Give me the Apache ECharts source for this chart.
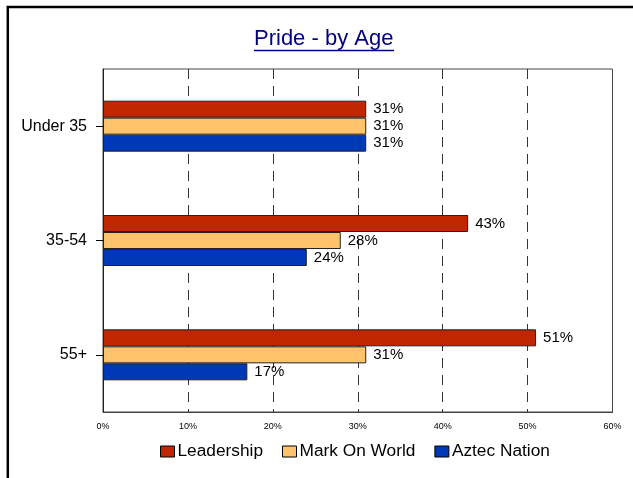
<!DOCTYPE html>
<html><head><meta charset="utf-8">
<script src="https://cdn.jsdelivr.net/npm/echarts@6/dist/echarts.min.js"></script>
<style>html,body{margin:0;padding:0;background:#fff}#c{width:633px;height:478px}</style>
</head><body><div id="c"></div>
<script>
const categories = ['Under 35', '35-54', '55+'];
const seriesNames = ['Leadership', 'Mark On World', 'Aztec Nation'];
const leadership = [31, 43, 51];
const markOnWorld = [31, 28, 31];
const aztecNation = [31, 24, 17];
const colors = ['#C02600', '#FFC36E', '#0039B8'];
const xTicks = [0, 10, 20, 30, 40, 50, 60];

const chart = echarts.init(document.getElementById('c'), null, {renderer: 'canvas'});
const values = [leadership, markOnWorld, aztecNation];
const font = 'Arial, "Liberation Sans", sans-serif';
chart.setOption({
  animation: false,
  textStyle: {fontFamily: font},
  title: {
    text: 'Pride - by Age', left: 254, top: 28, padding: 0,
    textStyle: {color: '#000080', fontSize: 22, fontWeight: 'normal', fontFamily: font}
  },
  legend: {
    top: 443, left: 160, padding: 0, itemWidth: 14, itemHeight: 11, itemGap: 19,
    textStyle: {fontSize: 17.3, color: '#000', fontFamily: font, padding: [0,0,0,-2]},
    icon: 'rect',
    itemStyle: {borderColor: '#000', borderWidth: 1},
    data: seriesNames
  },
  grid: {left: 103, right: 20.5, top: 69, bottom: 66, show: true, borderColor: '#444', borderWidth: 1, containLabel: false},
  xAxis: {
    type: 'value', min: xTicks[0], max: xTicks[xTicks.length-1], interval: 10,
    axisLine: {show: true, lineStyle: {color: '#444'}},
    axisTick: {show: false},
    axisLabel: {formatter: '{value}%', fontSize: 9, color: '#000', margin: 10},
    splitLine: {show: true, showMinLine: false, showMaxLine: false, lineStyle: {color: '#333', type: [10, 7], width: 1}}
  },
  yAxis: {
    type: 'category', data: categories, inverse: true,
    axisLine: {show: true, lineStyle: {color: '#222'}},
    axisTick: {show: true, alignWithLabel: true, length: 7, lineStyle: {color: '#000'}},
    axisLabel: {fontSize: 16, color: '#000', margin: 16}
  },
  series: seriesNames.map((n, i) => ({
    name: n, type: 'bar', data: values[i], barWidth: 17, barGap: '0%',
    itemStyle: {color: colors[i], borderColor: '#222', borderWidth: 1},
    label: {show: true, position: 'right', formatter: '{c}%', fontSize: 15, color: '#000', distance: 7}
  })),
  graphic: [
    {type: 'rect', shape: {x: 7.8, y: 7, width: 700, height: 600}, style: {fill: 'none', stroke: '#000', lineWidth: 2.5}, silent: true},
    {type: 'line', shape: {x1: 254, y1: 50.5, x2: 394, y2: 50.5}, style: {stroke: '#000080', lineWidth: 1.5}, silent: true}
  ]
});
</script></body></html>
